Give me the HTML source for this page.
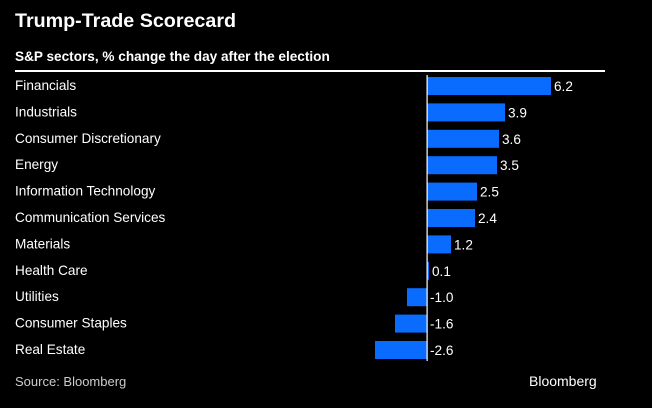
<!DOCTYPE html>
<html><head><meta charset="utf-8"><style>
body{margin:0;background:#000;width:652px;height:403px;overflow:hidden;font-family:"Liberation Sans",sans-serif;color:#fff}
</style></head><body>
<svg width="652" height="403" xmlns="http://www.w3.org/2000/svg">
<text x="15" y="27" font-size="19.7" font-weight="bold" fill="#fff">Trump-Trade Scorecard</text>
<text x="15" y="61" font-size="13.6" font-weight="bold" fill="#fff">S&amp;P sectors, % change the day after the election</text>
<rect x="15" y="70" width="590" height="2" fill="#fff"/>
<g id="bars"></g>
<text x="15" y="386" font-size="13" fill="#ccc">Source: Bloomberg</text>
<text x="529" y="386" font-size="14" fill="#fff">Bloomberg</text>
</svg>
<script>
const categories=["Financials","Industrials","Consumer Discretionary","Energy","Information Technology","Communication Services","Materials","Health Care","Utilities","Consumer Staples","Real Estate"];
const values=[6.2,3.9,3.6,3.5,2.5,2.4,1.2,0.1,-1.0,-1.6,-2.6];
const labels=["6.2","3.9","3.6","3.5","2.5","2.4","1.2","0.1","-1.0","-1.6","-2.6"];
const NS="http://www.w3.org/2000/svg";
const g=document.getElementById('bars');
const x0=427, scale=20;
const xs=v=>x0+v*scale;
const ys=i=>77+i*26.4;
categories.forEach((c,i)=>{
  const y=ys(i), v=values[i];
  const t=document.createElementNS(NS,'text');
  t.setAttribute('x',15);t.setAttribute('y',y+13);t.setAttribute('font-size','13.6');t.setAttribute('fill','#fff');
  t.textContent=c;
  
  
  g.appendChild(t);
  const r=document.createElementNS(NS,'rect');
  const a=Math.min(xs(0),xs(v)), w=Math.abs(xs(v)-xs(0));
  r.setAttribute('x',a);r.setAttribute('y',y);r.setAttribute('width',Math.max(w,1.5));r.setAttribute('height',18);r.setAttribute('fill','#0a6cff');
  
  
  g.appendChild(r);
  const l=document.createElementNS(NS,'text');
  l.setAttribute('x',(v>=0?xs(v):x0)+3);l.setAttribute('y',y+14);l.setAttribute('font-size','13.6');l.setAttribute('fill','#fff');
  l.textContent=labels[i];
  
  
  g.appendChild(l);
});
const z=document.createElementNS(NS,'rect');
z.setAttribute('x',x0-0.5);z.setAttribute('y',ys(0)-2);z.setAttribute('width',1.2);z.setAttribute('height',ys(categories.length-1)+22-ys(0));z.setAttribute('fill','#fff');


g.appendChild(z);
</script>
</body></html>
